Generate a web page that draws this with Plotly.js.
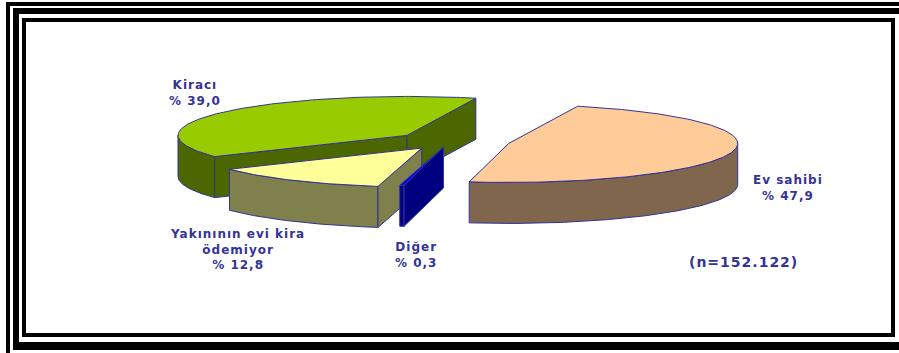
<!DOCTYPE html>
<html>
<head>
<meta charset="utf-8">
<script src="https://cdn.plot.ly/plotly-3.0.1.min.js"></script>
<style>
html,body{margin:0;padding:0;background:#fff;}
.annotation-text{letter-spacing:1px;}
</style>
</head>
<body>
<div id="chart" style="width:899px;height:353px;"></div>
<script>
// ---- data (clockwise order around the pie) ----
const categories = ['Ev sahibi', 'Diğer', 'Yakınının evi kira<br>ödemiyor', 'Kiracı'];
const values = [47.9, 0.3, 12.8, 39.0];
const sampleNote = '(n=152.122)';

// ---- style ----
const topColors  = ['#FFCC99', '#0000FF', '#FFFF99', '#99CC00'];
const sideColors = ['#7F664C', '#000080', '#80804C', '#4C6600'];
const pulls      = [0.264, 0.155, 0.22, 0.236];
const labelPos   = [[788, 188], [416, 255], [237, 249], [195, 92.5]];
const edgeColor = '#333399';
const textColor = '#333399';
const CX = 450, CY = 141, RX = 229, RY = 39, DEPTH = 41, START_DEG = 17.5;

const rad = d => d * Math.PI / 180;
function pt(c, thDeg, dy) {
  const t = rad(thDeg);
  return [c[0] + RX * Math.sin(t), c[1] - RY * Math.cos(t) + (dy || 0)];
}
function arc(c, a0, a1, dy) {
  const n = Math.max(2, Math.ceil(Math.abs(a1 - a0)) + 1);
  const out = [];
  for (let k = 0; k < n; k++) out.push(pt(c, a0 + (a1 - a0) * k / (n - 1), dy));
  return out;
}
function poly(points, fill) {
  const xs = points.map(p => p[0]), ys = points.map(p => p[1]);
  xs.push(xs[0]); ys.push(ys[0]);
  return {type: 'scatter', mode: 'lines', x: xs, y: ys, fill: 'toself',
          fillcolor: fill, line: {color: edgeColor, width: 1},
          hoverinfo: 'skip', showlegend: false};
}

const total = values.reduce((a, b) => a + b, 0);
let cum = 0;
const slices = values.map((v, i) => {
  const a0 = START_DEG + cum / total * 360;
  cum += v;
  const a1 = START_DEG + cum / total * 360;
  const mid = (a0 + a1) / 2;
  const c = [CX + pulls[i] * RX * Math.sin(rad(mid)), CY - pulls[i] * RY * Math.cos(rad(mid))];
  return {i, a0, a1, mid, c};
});
// far slices first
const order = slices.slice().sort((p, q) => Math.cos(rad(q.mid)) - Math.cos(rad(p.mid)));

const traces = [];
order.forEach(s => {
  const {i, a0, a1, c} = s;
  // curved outer side (front half: 90..270 deg, also 450..630)
  [[90, 270], [450, 630]].forEach(([lo, hi]) => {
    const b0 = Math.max(a0, lo), b1 = Math.min(a1, hi);
    if (b1 > b0) {
      const topArc = arc(c, b0, b1, 0);
      const botArc = arc(c, b1, b0, DEPTH);
      traces.push(poly(topArc.concat(botArc), sideColors[i]));
    }
  });
  // radial faces
  if (Math.sin(rad(a0)) < 0) {
    const r = pt(c, a0, 0);
    traces.push(poly([c, r, [r[0], r[1] + DEPTH], [c[0], c[1] + DEPTH]], sideColors[i]));
  }
  if (Math.sin(rad(a1)) > 0) {
    const r = pt(c, a1, 0);
    traces.push(poly([c, r, [r[0], r[1] + DEPTH], [c[0], c[1] + DEPTH]], sideColors[i]));
  }
  // top face
  traces.push(poly([c].concat(arc(c, a0, a1, 0)), topColors[i]));
});

// labels
const fmt = v => '% ' + v.toFixed(1).replace('.', ',');
const labelFont = {family: 'DejaVu Sans', size: 12, color: textColor, weight: 'bold'};
const annotations = values.map((v, i) => ({
  x: labelPos[i][0], y: labelPos[i][1], xref: 'x', yref: 'y',
  text: categories[i] + '<br>' + fmt(v), showarrow: false,
  xanchor: 'center', yanchor: 'middle', align: 'center', borderpad: 0, font: labelFont
}));
annotations.push({x: 743, y: 262, xref: 'x', yref: 'y', text: sampleNote, showarrow: false,
  xanchor: 'center', yanchor: 'middle', borderpad: 0,
  font: {family: 'DejaVu Sans', size: 14, color: textColor, weight: 'bold'}});

// decorative frame
const bar = (x0, y0, x1, y1) => ({type: 'rect', xref: 'x', yref: 'y', x0, y0, x1, y1,
  fillcolor: '#000', line: {width: 0}, layer: 'above'});
const shapes = [
  bar(6, 2, 10, 353), bar(6, 2, 899, 6),
  bar(13, 8, 19, 350), bar(13, 8, 899, 14), bar(13, 342, 899, 350),
  bar(22, 18, 26, 337), bar(22, 18, 895, 22), bar(891, 18, 895, 337), bar(22, 333, 895, 337)
];

const layout = {
  width: 899, height: 353,
  margin: {l: 0, r: 0, t: 0, b: 0, pad: 0},
  paper_bgcolor: '#fff', plot_bgcolor: '#fff',
  xaxis: {range: [0, 899], visible: false, fixedrange: true},
  yaxis: {range: [353, 0], visible: false, fixedrange: true},
  showlegend: false,
  annotations, shapes
};
Plotly.newPlot('chart', traces, layout, {staticPlot: true, displayModeBar: false});
</script>
</body>
</html>
